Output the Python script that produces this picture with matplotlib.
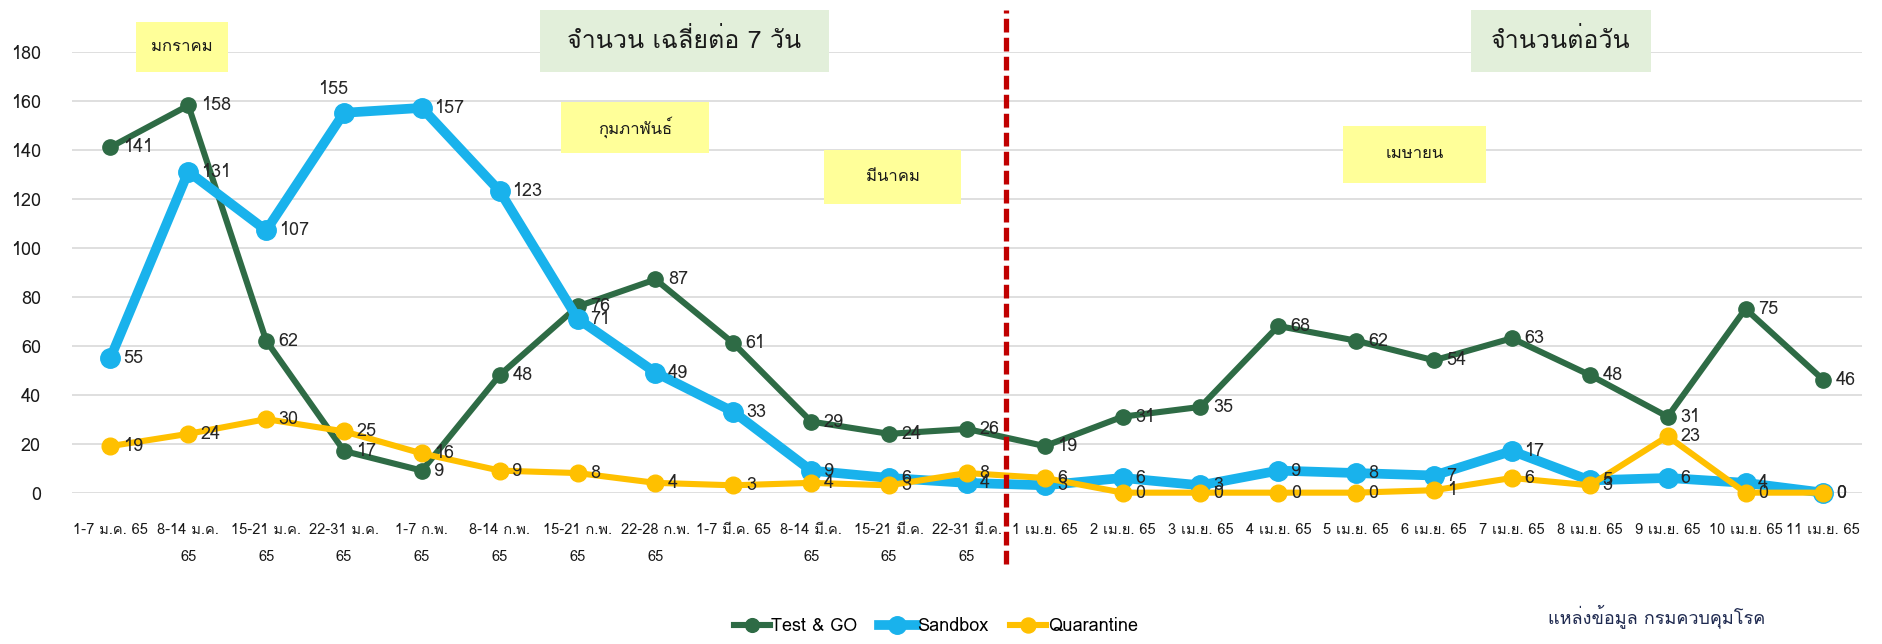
import matplotlib
matplotlib.use("Agg")

import matplotlib.pyplot as plt
from matplotlib import font_manager
from matplotlib.ft2font import FT2Font
from matplotlib.patches import Rectangle


# =========================
# DATA
# =========================

x_labels = [
    "1-7 ม.ค. 65", "8-14 ม.ค.\n65", "15-21 ม.ค.\n65", "22-31 ม.ค.\n65",
    "1-7 ก.พ.\n65", "8-14 ก.พ.\n65", "15-21 ก.พ.\n65", "22-28 ก.พ.\n65",
    "1-7 มี.ค. 65", "8-14 มี.ค.\n65", "15-21 มี.ค.\n65", "22-31 มี.ค.\n65",
    "1 เม.ย. 65", "2 เม.ย. 65", "3 เม.ย. 65", "4 เม.ย. 65",
    "5 เม.ย. 65", "6 เม.ย. 65", "7 เม.ย. 65", "8 เม.ย. 65",
    "9 เม.ย. 65", "10 เม.ย. 65", "11 เม.ย. 65",
]

test_and_go = [141, 158, 62, 17, 9, 48, 76, 87, 61, 29, 24, 26,
               19, 31, 35, 68, 62, 54, 63, 48, 31, 75, 46]

sandbox = [55, 131, 107, 155, 157, 123, 71, 49, 33, 9, 6, 4,
           3, 6, 3, 9, 8, 7, 17, 5, 6, 4, 0]

quarantine = [19, 24, 30, 25, 16, 9, 8, 4, 3, 4, 3, 8,
              6, 0, 0, 0, 0, 1, 6, 3, 23, 0, 0]

series_names = ["Test & GO", "Sandbox", "Quarantine"]

y_ticks = [0, 20, 40, 60, 80, 100, 120, 140, 160, 180]

# position of the split between weekly average and daily counts
split_position = 11.5

source_text = "แหล่งข้อมูล กรมควบคุมโรค"


# =========================
# FONTS
# =========================

def find_thai_font():

    for entry in font_manager.fontManager.ttflist:

        try:
            if 0x0E01 in FT2Font(entry.fname).get_charmap():
                return entry.name
        except Exception:
            pass

    return None


thai_font = find_thai_font()

families = ["Liberation Sans Narrow"]
if thai_font:
    families.append(thai_font)
families.append("DejaVu Sans")

plt.rcParams["font.family"] = families


# =========================
# CREATE CHART
# =========================

def add_box(fig, x0, y0, x1, y1, text, face, size):

    # pixel coords measured from top-left of the 1883x644 picture
    W, H = 1883, 644

    fig.patches.append(
        Rectangle(
            (x0 / W, 1 - y1 / H),
            (x1 - x0) / W,
            (y1 - y0) / H,
            transform=fig.transFigure,
            facecolor=face,
            edgecolor="none",
            zorder=5
        )
    )

    fig.text(
        (x0 + x1) / 2 / W,
        1 - (y0 + y1) / 2 / H,
        text,
        ha="center",
        va="center",
        fontsize=size,
        color="#1a1a1a",
        zorder=6
    )


def create_chart():

    fig = plt.figure(figsize=(18.83, 6.44), dpi=100)

    ax = fig.add_axes([0.038, 0.235, 0.951, 0.685])

    x = list(range(len(x_labels)))

    styles = [
        (test_and_go, "#2E6B45", 4.4, 11),
        (sandbox, "#19B2EC", 7.0, 14),
        (quarantine, "#FFC000", 4.4, 12),
    ]

    handles = []

    for (values, color, lw, ms), name in zip(styles, series_names):

        line, = ax.plot(
            x,
            values,
            color=color,
            linewidth=lw,
            marker="o",
            markersize=ms,
            label=name,
            zorder=3,
            clip_on=False
        )

        handles.append(line)

        for i, v in enumerate(values):

            offset = (9, 0)
            ha = "left"

            if name == "Sandbox" and i == 3:
                offset = (-8, 17)
                ha = "center"

            ax.annotate(
                str(v),
                (i, v),
                xytext=offset,
                textcoords="offset points",
                ha=ha,
                va="center",
                fontsize=13,
                color="#262626",
                zorder=4
            )

    # dashed split line, reaching above and below the plot area
    ax.plot(
        [split_position, split_position],
        [-29, 197],
        color="#C00000",
        linewidth=3.8,
        linestyle=(0, (2.6, 1.0)),
        zorder=4,
        clip_on=False
    )

    ax.set_xlim(-0.5, len(x_labels) - 0.5)
    ax.set_ylim(0, 180)

    ax.set_yticks(y_ticks)
    ax.set_xticks(x)
    ax.set_xticklabels(x_labels, fontsize=10.5, linespacing=2.2)

    ax.tick_params(axis="both", length=0, colors="#1a1a1a")
    ax.tick_params(axis="y", labelsize=13, pad=22)
    ax.tick_params(axis="x", pad=22)

    ax.grid(axis="y", color="#D9D9D9", linewidth=1.2)
    ax.set_axisbelow(True)

    for spine in ax.spines.values():
        spine.set_visible(False)

    # text boxes
    yellow = "#FFFF99"
    green = "#E2EFDA"

    add_box(fig, 136, 22, 228, 72, "มกราคม", yellow, 12)
    add_box(fig, 540, 10, 829, 72, "จำนวน เฉลี่ยต่อ 7 วัน", green, 18)
    add_box(fig, 561, 102, 709, 153, "กุมภาพันธ์", yellow, 12)
    add_box(fig, 824, 150, 961, 204, "มีนาคม", yellow, 12)
    add_box(fig, 1471, 10, 1651, 72, "จำนวนต่อวัน", green, 18)
    add_box(fig, 1343, 126, 1486, 183, "เมษายน", yellow, 12)

    fig.legend(
        handles=handles,
        loc="center",
        bbox_to_anchor=(0.497, 0.028),
        ncol=3,
        frameon=False,
        fontsize=13,
        handlelength=2.0,
        handletextpad=0.1,
        columnspacing=1.2,
        markerscale=0.9
    )

    fig.text(
        0.822,
        1 - 616 / 644,
        source_text,
        ha="left",
        va="center",
        fontsize=13,
        color="#1F2A50"
    )

    fig.savefig("out.png", dpi=100)


# =========================
# MAIN
# =========================

if __name__ == "__main__":

    create_chart()
